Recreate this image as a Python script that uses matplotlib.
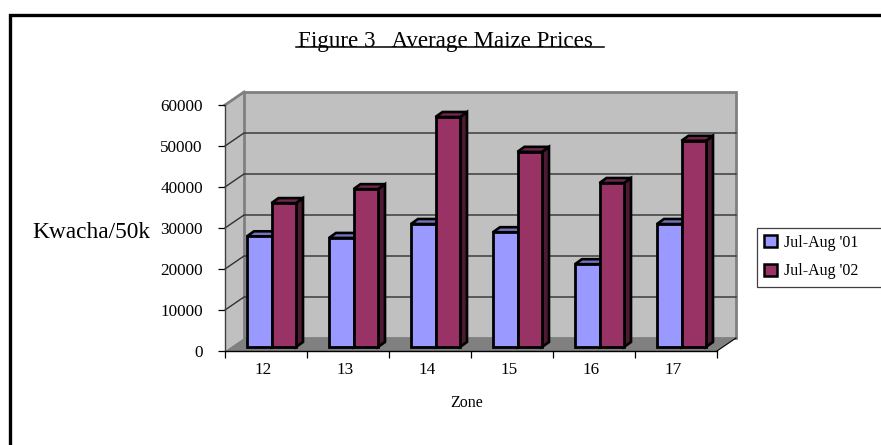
import numpy as np
import matplotlib
matplotlib.use('Agg')
import matplotlib.pyplot as plt
from matplotlib.patches import Patch

zones = ['12', '13', '14', '15', '16', '17']
prices_01 = [27000, 26600, 30000, 28000, 20200, 30000]
prices_02 = [35100, 38500, 56100, 47600, 40000, 50300]
series_names = ["Jul-Aug '01", "Jul-Aug '02"]
yticks = [0, 10000, 20000, 30000, 40000, 50000, 60000]

W, H = 881, 445
plt.rcParams['font.family'] = ['Liberation Serif', 'DejaVu Serif']

fig = plt.figure(figsize=(W / 100, H / 100), dpi=100)

# full figure overlay in pixels for the frame and the loose texts
bg = fig.add_axes([0, 0, 1, 1])
bg.set_xlim(0, W)
bg.set_ylim(H, 0)
bg.axis('off')
bg.plot([9.5, 9.5, W], [H, 14.5, 14.5], color='black', lw=2.4, solid_joinstyle='miter')
bg.text(445, 41, 'Figure 3   Average Maize Prices', ha='center', va='center', fontsize=16.6)
bg.plot([296, 604], [47, 47], color='black', lw=1.1)
bg.text(91, 232, 'Kwacha/50k', ha='center', va='center', fontsize=16.8)
bg.text(467, 403, 'Zone', ha='center', va='center', fontsize=11.5)

# front plane of the 3d box
left, right, top, bottom = 225, 717, 105, 351
ax = fig.add_axes([left / W, 1 - bottom / H, (right - left) / W, (bottom - top) / H])
ax.set_xlim(0, 6)
ax.set_ylim(0, 60000)
ax.patch.set_alpha(0)

# pixel depth converted to data units
px_x = 6 / (right - left)
px_y = 60000 / (bottom - top)
depth_x, depth_y = 19 * px_x, 13 * px_y

wall = '#c0c0c0'
edge = '#808080'
ymax = yticks[-1]
# left wall, floor, back wall
ax.fill([0, depth_x, depth_x, 0], [0, depth_y, ymax + depth_y, ymax],
        color=wall, clip_on=False, lw=0, zorder=1)
ax.fill([0, 6, 6 + depth_x, depth_x], [0, 0, depth_y, depth_y],
        color=edge, clip_on=False, lw=0, zorder=1)
ax.fill([depth_x, 6 + depth_x, 6 + depth_x, depth_x],
        [depth_y, depth_y, ymax + depth_y, ymax + depth_y],
        facecolor=wall, edgecolor=edge, lw=2, clip_on=False, zorder=1)
ax.plot([0, depth_x], [ymax, ymax + depth_y], color=edge, lw=2, clip_on=False, zorder=1.5)
ax.plot([6, 6 + depth_x], [0, depth_y], color='black', lw=0.8, clip_on=False, zorder=1.5)

for v in yticks[1:-1]:
    ax.plot([0, depth_x, 6 + depth_x], [v, v + depth_y, v + depth_y],
            color='#303030', lw=1.0, clip_on=False, zorder=2)


def bar3d(x0, width, value, front, side, tops, z):
    # bars stand a little way in from the front of the floor
    off_y = 4 * px_y
    dx, dy = 7 * px_x, 5 * px_y
    x1 = x0 + width
    y1 = value + off_y
    ax.fill([x1, x1 + dx, x1 + dx, x1], [off_y, off_y + dy, y1 + dy, y1],
            facecolor=side, edgecolor='black', lw=1.9, zorder=z - 0.1,
            clip_on=False, joinstyle='miter')
    ax.fill([x0, x0 + dx, x1 + dx, x1], [y1, y1 + dy, y1 + dy, y1],
            facecolor=tops, edgecolor='black', lw=1.9, zorder=z - 0.1,
            clip_on=False, joinstyle='miter')
    ax.bar(x0, value, width, bottom=off_y, align='edge', color=front,
           edgecolor='black', lw=2.0, zorder=z, clip_on=False)


bar_w = 24.5 * px_x
for i in range(len(zones)):
    start = i + 22 * px_x
    bar3d(start, bar_w, prices_01[i], '#9999ff', '#4d4d80', '#7373bf', 3 + i)
    bar3d(start + bar_w, bar_w, prices_02[i], '#993366', '#4d1a33', '#732650', 3.5 + i)

ax.set_xticks(np.arange(0, 7))
ax.set_xticklabels([])
for i, z in enumerate(zones):
    ax.text(i + 0.46, -4700, z, ha='center', va='center', fontsize=12.3)
ax.set_yticks(yticks)
ax.set_yticklabels([str(v) for v in yticks], fontsize=12.3)
ax.tick_params(axis='both', length=5, width=0.9, color='black', pad=11)
ax.spines['top'].set_visible(False)
ax.spines['right'].set_visible(False)
ax.spines['left'].set_color('#404040')
ax.spines['left'].set_linewidth(1.0)
ax.spines['bottom'].set_linewidth(1.0)
for s in ax.spines.values():
    s.set_zorder(20)

handles = [Patch(facecolor='#9999ff', edgecolor='black', lw=1.8, label=series_names[0]),
           Patch(facecolor='#993366', edgecolor='black', lw=1.8, label=series_names[1])]
# box runs off the right edge of the picture, as in the original
leg = bg.legend(handles=handles, loc='upper left',
                bbox_to_anchor=(757 / W, 1 - 227.5 / H, 130 / W, 0),
                bbox_transform=fig.transFigure, mode='expand', frameon=True, fancybox=False,
                fontsize=11.5, edgecolor='#404040', framealpha=1, borderaxespad=0,
                borderpad=0.45, labelspacing=0.8, handlelength=0.8, handleheight=0.8,
                handletextpad=0.45)
leg.get_frame().set_linewidth(0.9)
bg.set_zorder(5)

fig.savefig('out.png', dpi=100)
